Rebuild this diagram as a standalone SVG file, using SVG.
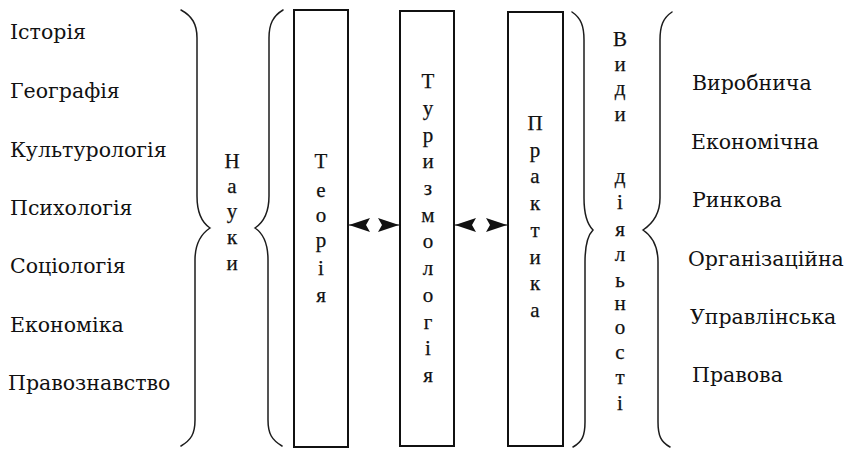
<svg xmlns="http://www.w3.org/2000/svg" width="855" height="452" viewBox="0 0 855 452">
  <style>
    .list { font-family: "DejaVu Serif", "Liberation Serif", serif; font-size: 20.5px; fill: #111; }
    .vert { font-family: "Liberation Serif", "DejaVu Serif", serif; font-size: 21px; fill: #111; stroke: #111; stroke-width: 0.25; text-anchor: middle; }
    .box { fill: #fff; stroke: #111; stroke-width: 2; }
    .brace { fill: none; stroke: #1c1c1c; stroke-width: 1.5; stroke-linecap: round; }
    .link { fill: none; stroke: #111; stroke-width: 1; }
  </style>
  <defs>
    <marker id="head" markerUnits="userSpaceOnUse" viewBox="0 0 21 14" markerWidth="21" markerHeight="14" refX="21" refY="7" orient="auto">
      <path d="M0,0 L21,7 L0,14 L4,7 Z" fill="#111"/>
    </marker>
  </defs>
  <rect width="855" height="452" fill="#fff"/>

  <!-- sciences list -->
  <g id="sciences-list">
    <text class="list" x="10" y="39">Історія</text>
    <text class="list" x="10" y="98">Географія</text>
    <text class="list" x="10" y="157">Культурологія</text>
    <text class="list" x="10" y="215">Психологія</text>
    <text class="list" x="10" y="273">Соціологія</text>
    <text class="list" x="10" y="332">Економіка</text>
    <text class="list" x="8" y="390">Правознавство</text>
  </g>

  <!-- braces around the "Науки" label -->
  <g id="sciences-braces">
    <path class="brace" d="M181,10 C192,16 197,24 197,38 L197,196 C197,212 201,222 210,228 C201,234 195,244 195,260 L195,420 C195,434 191,440 181,446"/>
    <path class="brace" d="M283,10 C273,16 269,24 269,38 L269,196 C269,212 264,222 255,228 C264,234 268,244 268,260 L268,420 C268,434 272,440 282,446"/>
  </g>
  <g id="sciences-label">
    <text class="vert" x="232" y="168">Н</text>
    <text class="vert" x="232" y="193">а</text>
    <text class="vert" x="232" y="218">у</text>
    <text class="vert" x="232" y="244">к</text>
    <text class="vert" x="232" y="270">и</text>
  </g>

  <!-- Theory -->
  <g id="theory">
    <rect class="box" x="294" y="10" width="54" height="437"/>
    <text class="vert" x="321" y="168">Т</text>
    <text class="vert" x="321" y="197">е</text>
    <text class="vert" x="321" y="222">о</text>
    <text class="vert" x="321" y="247">р</text>
    <text class="vert" x="321" y="275">і</text>
    <text class="vert" x="321" y="302">я</text>
  </g>

  <!-- Tourismology -->
  <g id="tourismology">
    <rect class="box" x="400" y="11" width="54" height="435"/>
    <text class="vert" x="428" y="88">Т</text>
    <text class="vert" x="428" y="114.7">у</text>
    <text class="vert" x="428" y="141.5">р</text>
    <text class="vert" x="428" y="168">и</text>
    <text class="vert" x="428" y="195">з</text>
    <text class="vert" x="428" y="221.6">м</text>
    <text class="vert" x="428" y="248">о</text>
    <text class="vert" x="428" y="275">л</text>
    <text class="vert" x="428" y="302">о</text>
    <text class="vert" x="428" y="328.6">г</text>
    <text class="vert" x="428" y="355">і</text>
    <text class="vert" x="428" y="382">я</text>
  </g>

  <!-- Practice -->
  <g id="practice">
    <rect class="box" x="508" y="12" width="55" height="434"/>
    <text class="vert" x="535" y="130">П</text>
    <text class="vert" x="535" y="156.7">р</text>
    <text class="vert" x="535" y="183.4">а</text>
    <text class="vert" x="535" y="210">к</text>
    <text class="vert" x="535" y="236.8">т</text>
    <text class="vert" x="535" y="263.5">и</text>
    <text class="vert" x="535" y="290">к</text>
    <text class="vert" x="535" y="317">а</text>
  </g>

  <!-- two-way links between the columns -->
  <g id="connectors">
    <path class="link" d="M366,225 L349,225" marker-end="url(#head)"/>
    <path class="link" d="M382,225 L399,225" marker-end="url(#head)"/>
    <path class="link" d="M472,225 L455,225" marker-end="url(#head)"/>
    <path class="link" d="M490,225 L507,225" marker-end="url(#head)"/>
  </g>

  <!-- braces around the "Види діяльності" label -->
  <g id="activity-braces">
    <path class="brace" d="M572,12 C581,18 584,26 584,40 L584,198 C584,214 587,224 593,230 C587,236 585,246 585,262 L585,422 C585,436 582,442 573,447"/>
    <path class="brace" d="M672,12 C663,18 660,26 660,40 L660,198 C660,214 652,224 643,230 C652,236 658,246 658,262 L658,422 C658,436 661,442 670,447"/>
  </g>
  <g id="activity-label">
    <text class="vert" x="620" y="46">В</text>
    <text class="vert" x="620" y="71">и</text>
    <text class="vert" x="620" y="95">д</text>
    <text class="vert" x="620" y="121">и</text>
    <text class="vert" x="620" y="183">д</text>
    <text class="vert" x="620" y="209">і</text>
    <text class="vert" x="620" y="236">я</text>
    <text class="vert" x="620" y="261">л</text>
    <text class="vert" x="620" y="287">ь</text>
    <text class="vert" x="620" y="310">н</text>
    <text class="vert" x="620" y="334">о</text>
    <text class="vert" x="620" y="359">с</text>
    <text class="vert" x="620" y="384">т</text>
    <text class="vert" x="620" y="410">і</text>
  </g>

  <!-- activity types list -->
  <g id="activity-list">
    <text class="list" x="692" y="90">Виробнича</text>
    <text class="list" x="691" y="149">Економічна</text>
    <text class="list" x="692" y="207">Ринкова</text>
    <text class="list" x="688" y="266">Організаційна</text>
    <text class="list" x="690" y="324">Управлінська</text>
    <text class="list" x="692" y="382">Правова</text>
  </g>
</svg>
